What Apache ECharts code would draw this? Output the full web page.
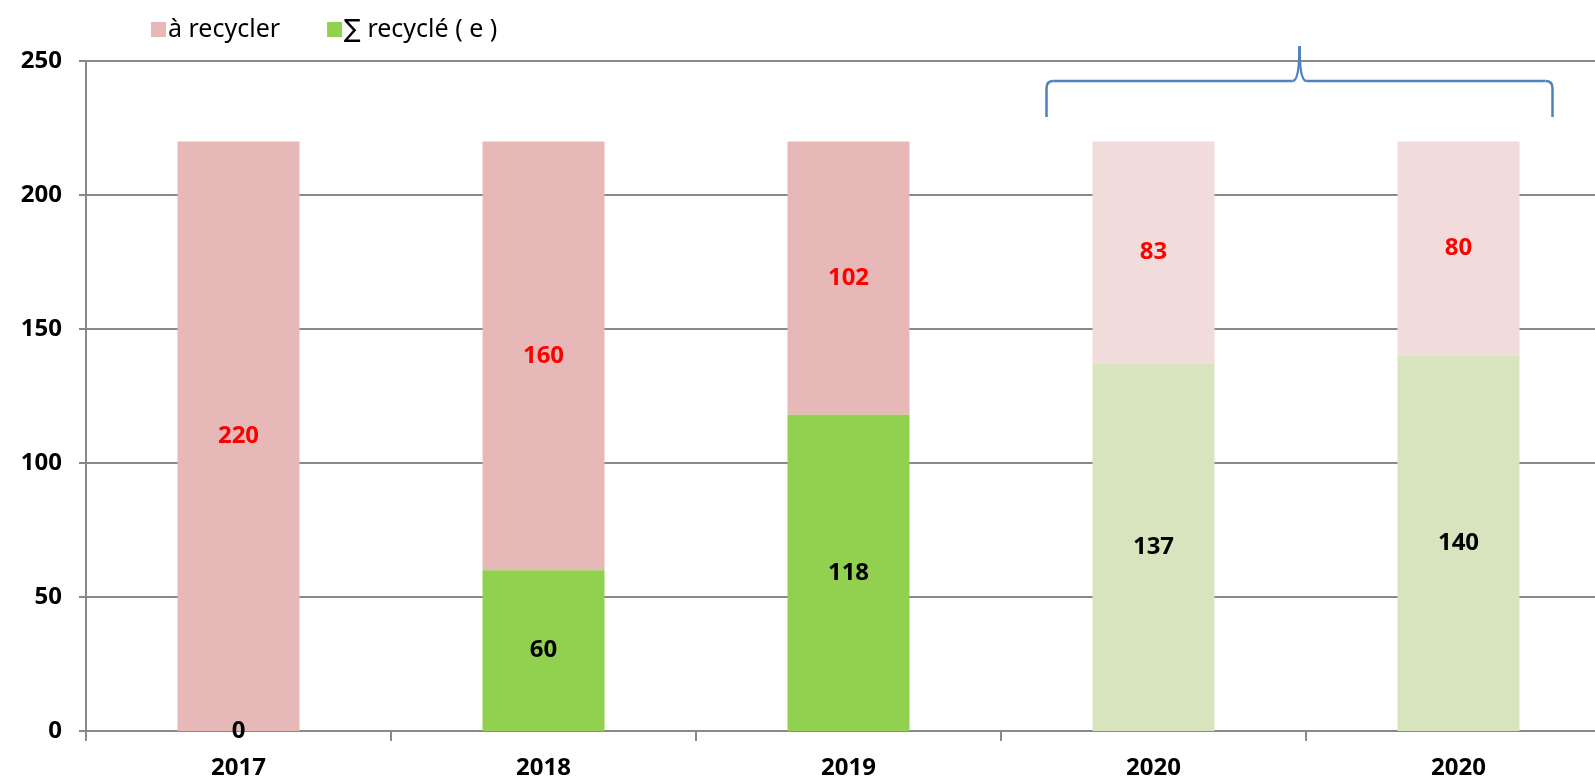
<!DOCTYPE html>
<html>
<head>
<meta charset="utf-8">
<script src="https://cdn.jsdelivr.net/npm/echarts@6/dist/echarts.min.js"></script>
<style>
  html, body { margin: 0; padding: 0; background: #fff; }
  #chart { width: 1595px; height: 780px; }
</style>
</head>
<body>
<div id="chart"></div>
<script>
const categories = ['2017', '2018', '2019', '2020', '2020']
const recycled = [0, 60, 118, 137, 140]
const toRecycle = [220, 160, 102, 83, 80]
const yTicks = { min: 0, max: 250, interval: 50 }

// the last two bars are estimates, drawn in paler colours
const pinkColors = ['#e6b9b8', '#e6b9b8', '#e6b9b8', '#f2dcdb', '#f2dcdb']
const greenColors = ['#92d050', '#92d050', '#92d050', '#d7e4bd', '#d7e4bd']

const font = '"Noto Sans", "DejaVu Sans", sans-serif'
const chart = echarts.init(document.getElementById('chart'), null, { renderer: 'canvas' })

const option = {
  animation: false,
  textStyle: { fontFamily: font },
  legend: {
    left: 146,
    top: 12,
    itemWidth: 15,
    itemHeight: 15,
    itemGap: 47,
    icon: 'rect',
    textStyle: { fontSize: 25, color: '#000', fontFamily: font, padding: [0, 0, 0, -3] },
    data: ['à recycler', '∑ recyclé ( e )']
  },
  // the plot runs a little past the right edge of the picture
  grid: { left: 86, right: -16, top: 61, bottom: 49, outerBoundsMode: 'none' },
  xAxis: {
    type: 'category',
    data: categories,
    axisLine: { lineStyle: { color: '#898989', width: 2 } },
    axisTick: { show: true, length: 10, lineStyle: { color: '#898989', width: 2 } },
    axisLabel: { fontSize: 24, fontWeight: 'bold', color: '#000', margin: 25 }
  },
  yAxis: {
    type: 'value',
    min: yTicks.min,
    max: yTicks.max,
    interval: yTicks.interval,
    axisLine: { show: true, lineStyle: { color: '#898989', width: 2 } },
    axisTick: { show: true, length: 7, lineStyle: { color: '#898989', width: 2 } },
    splitLine: { lineStyle: { color: '#898989', width: 2 } },
    axisLabel: { fontSize: 24, fontWeight: 'bold', color: '#000', margin: 24 }
  },
  series: [
    {
      name: '∑ recyclé ( e )',
      type: 'bar',
      stack: 'total',
      barWidth: '40%',
      itemStyle: { color: '#92d050' },
      data: recycled.map((v, i) => ({ value: v, itemStyle: { color: greenColors[i] } })),
      label: {
        show: true,
        position: 'inside',
        color: '#000',
        fontSize: 24,
        fontWeight: 'bold',
        fontFamily: font
      },
      z: 3
    },
    {
      name: 'à recycler',
      type: 'bar',
      stack: 'total',
      barWidth: '40%',
      itemStyle: { color: '#e6b9b8' },
      data: toRecycle.map((v, i) => ({ value: v, itemStyle: { color: pinkColors[i] } })),
      label: {
        show: true,
        position: 'inside',
        color: '#ff0000',
        fontSize: 24,
        fontWeight: 'bold',
        fontFamily: font
      },
      z: 2
    }
  ]
}

chart.setOption(option)

// curly brace grouping the two 2020 bars
const drawBrace = () => {
  const left = chart.convertToPixel({ xAxisIndex: 0 }, 3) - 107
  const right = chart.convertToPixel({ xAxisIndex: 0 }, 4) + 94
  const mid = (left + right) / 2
  const y250 = chart.convertToPixel({ yAxisIndex: 0 }, 250)
  const top = y250 - 15
  const bar = y250 + 20
  const bottom = y250 + 56
  const r = 7
  const s = { fill: null, stroke: '#4f81bd', lineWidth: 2.5 }
  const line = (x1, y1, x2, y2) => ({ type: 'line', shape: { x1, y1, x2, y2 }, style: s, z: 10 })
  const curve = (x1, y1, cpx1, cpy1, x2, y2) => ({ type: 'bezierCurve', shape: { x1, y1, cpx1, cpy1, x2, y2 }, style: s, z: 10 })
  chart.setOption({
    graphic: [
      line(left, bottom, left, bar + r),
      curve(left, bar + r, left, bar, left + r, bar),
      line(left + r, bar, mid - 7, bar),
      curve(mid - 7, bar, mid, bar, mid, top),
      curve(mid, top, mid, bar, mid + 7, bar),
      line(mid + 7, bar, right - r, bar),
      curve(right - r, bar, right, bar, right, bar + r),
      line(right, bar + r, right, bottom)
    ]
  })
}
drawBrace()

window.addEventListener('resize', () => {
  chart.resize()
  drawBrace()
})
</script>
</body>
</html>
